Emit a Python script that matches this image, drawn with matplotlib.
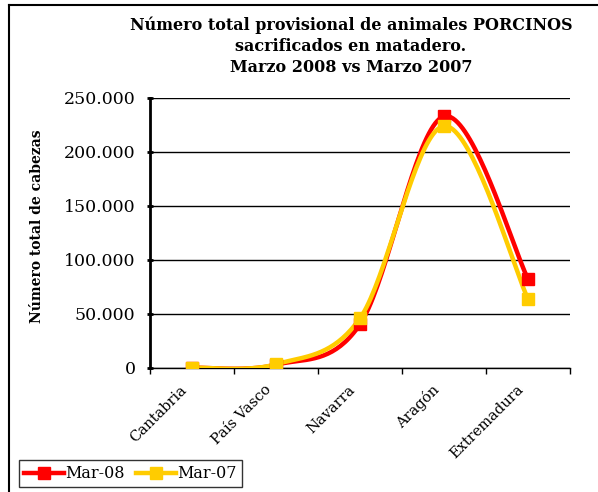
import matplotlib
matplotlib.use("Agg")
import matplotlib.pyplot as plt
import matplotlib.transforms as mtransforms
import numpy as np
from matplotlib.ticker import FuncFormatter

categories = ["Cantabria", "País Vasco", "Navarra", "Aragón", "Extremadura"]
mar08 = [300, 3000, 40500, 233000, 82500]
mar07 = [300, 3500, 46000, 224000, 64000]
series_names = ["Mar-08", "Mar-07"]
colors = ["#FF0000", "#FFCC00"]

plt.rcParams['font.family'] = ['DejaVu Serif']

fig = plt.figure(figsize=(5.98, 4.92), dpi=100)
ax = fig.add_axes([150/598, 1-368/492, 420/598, 270/492])

def smooth(xs, ys, n=40):
    xs = np.asarray(xs, float); ys = np.asarray(ys, float)
    P = np.column_stack([xs, ys])
    out = []
    for i in range(len(P)-1):
        p0 = P[i-1] if i > 0 else P[i]
        p1 = P[i]; p2 = P[i+1]
        p3 = P[i+2] if i+2 < len(P) else P[i+1]
        c1 = p1 + (p2 - p0)/6
        c2 = p2 - (p3 - p1)/6
        t = np.linspace(0, 1, n)[:, None]
        seg = (1-t)**3*p1 + 3*(1-t)**2*t*c1 + 3*(1-t)*t**2*c2 + t**3*p2
        out.append(seg if i == 0 else seg[1:])
    s = np.vstack(out)
    return s[:, 0], s[:, 1]

x = np.arange(len(categories))
handles = []
for vals, name, c in zip([mar08, mar07], series_names, colors):
    sx, sy = smooth(x, vals)
    ax.plot(sx, sy, color=c, lw=3.2, zorder=3, solid_capstyle='round')
    ax.plot(x, vals, ls='none', marker='s', ms=8, color=c, zorder=4)
    h, = ax.plot([], [], color=c, lw=3.2, marker='s', ms=8, label=name)
    handles.append(h)

ax.set_xlim(-0.5, 4.5)
ax.set_ylim(0, 250000)
ax.set_yticks(np.arange(0, 250001, 50000))
ax.yaxis.set_major_formatter(FuncFormatter(lambda v, p: f"{int(v):,}".replace(",", ".")))
ax.grid(axis='y', color='black', lw=1)
ax.set_axisbelow(True)
ax.set_xticks(np.arange(-0.5, 4.6, 1), minor=False)
ax.set_xticklabels([])
ax.set_xticks(x, minor=True)
ax.set_xticklabels(categories, minor=True, rotation=45, ha='right', va='center',
                   rotation_mode='anchor', fontsize=10.5)
ax.tick_params(axis='x', which='minor', length=0, pad=14)
offset = mtransforms.ScaledTranslation(-7/100, 0, fig.dpi_scale_trans)
for lab in ax.get_xticklabels(minor=True):
    lab.set_transform(lab.get_transform() + offset)
ax.tick_params(axis='x', which='major', length=4, width=1, direction='out')
ax.tick_params(axis='y', length=5, width=2, direction='inout', labelsize=12.5, pad=8)
for s in ['top', 'right']:
    ax.spines[s].set_visible(False)
ax.spines['left'].set_linewidth(2)
ax.spines['bottom'].set_linewidth(1)
ax.set_ylabel("Número total de cabezas", fontsize=10, fontweight='bold')
ax.yaxis.set_label_coords(-106/420, (368-226)/270)

fig.text(351/598, 1-17/492, "Número total provisional de animales PORCINOS\nsacrificados en matadero.\nMarzo 2008 vs Marzo 2007",
         ha='center', va='top', fontsize=11.5, fontweight='bold', linespacing=1.3)

leg = fig.legend(handles=handles, loc='lower left', bbox_to_anchor=(19/598, 1-487/492), ncol=2,
                 frameon=True, fancybox=False, edgecolor='black', fontsize=11.5,
                 handlelength=2.5, handletextpad=0.1, columnspacing=0.7, borderpad=0.3, borderaxespad=0)
leg.get_frame().set_linewidth(1)

# outer chart border (left and top)
fig.add_artist(plt.Line2D([9/598, 9/598], [0, 1-5/492], color='black', lw=1.5, transform=fig.transFigure))
fig.add_artist(plt.Line2D([9/598, 1], [1-5/492, 1-5/492], color='black', lw=1.5, transform=fig.transFigure))

fig.savefig("out.png", dpi=100)
